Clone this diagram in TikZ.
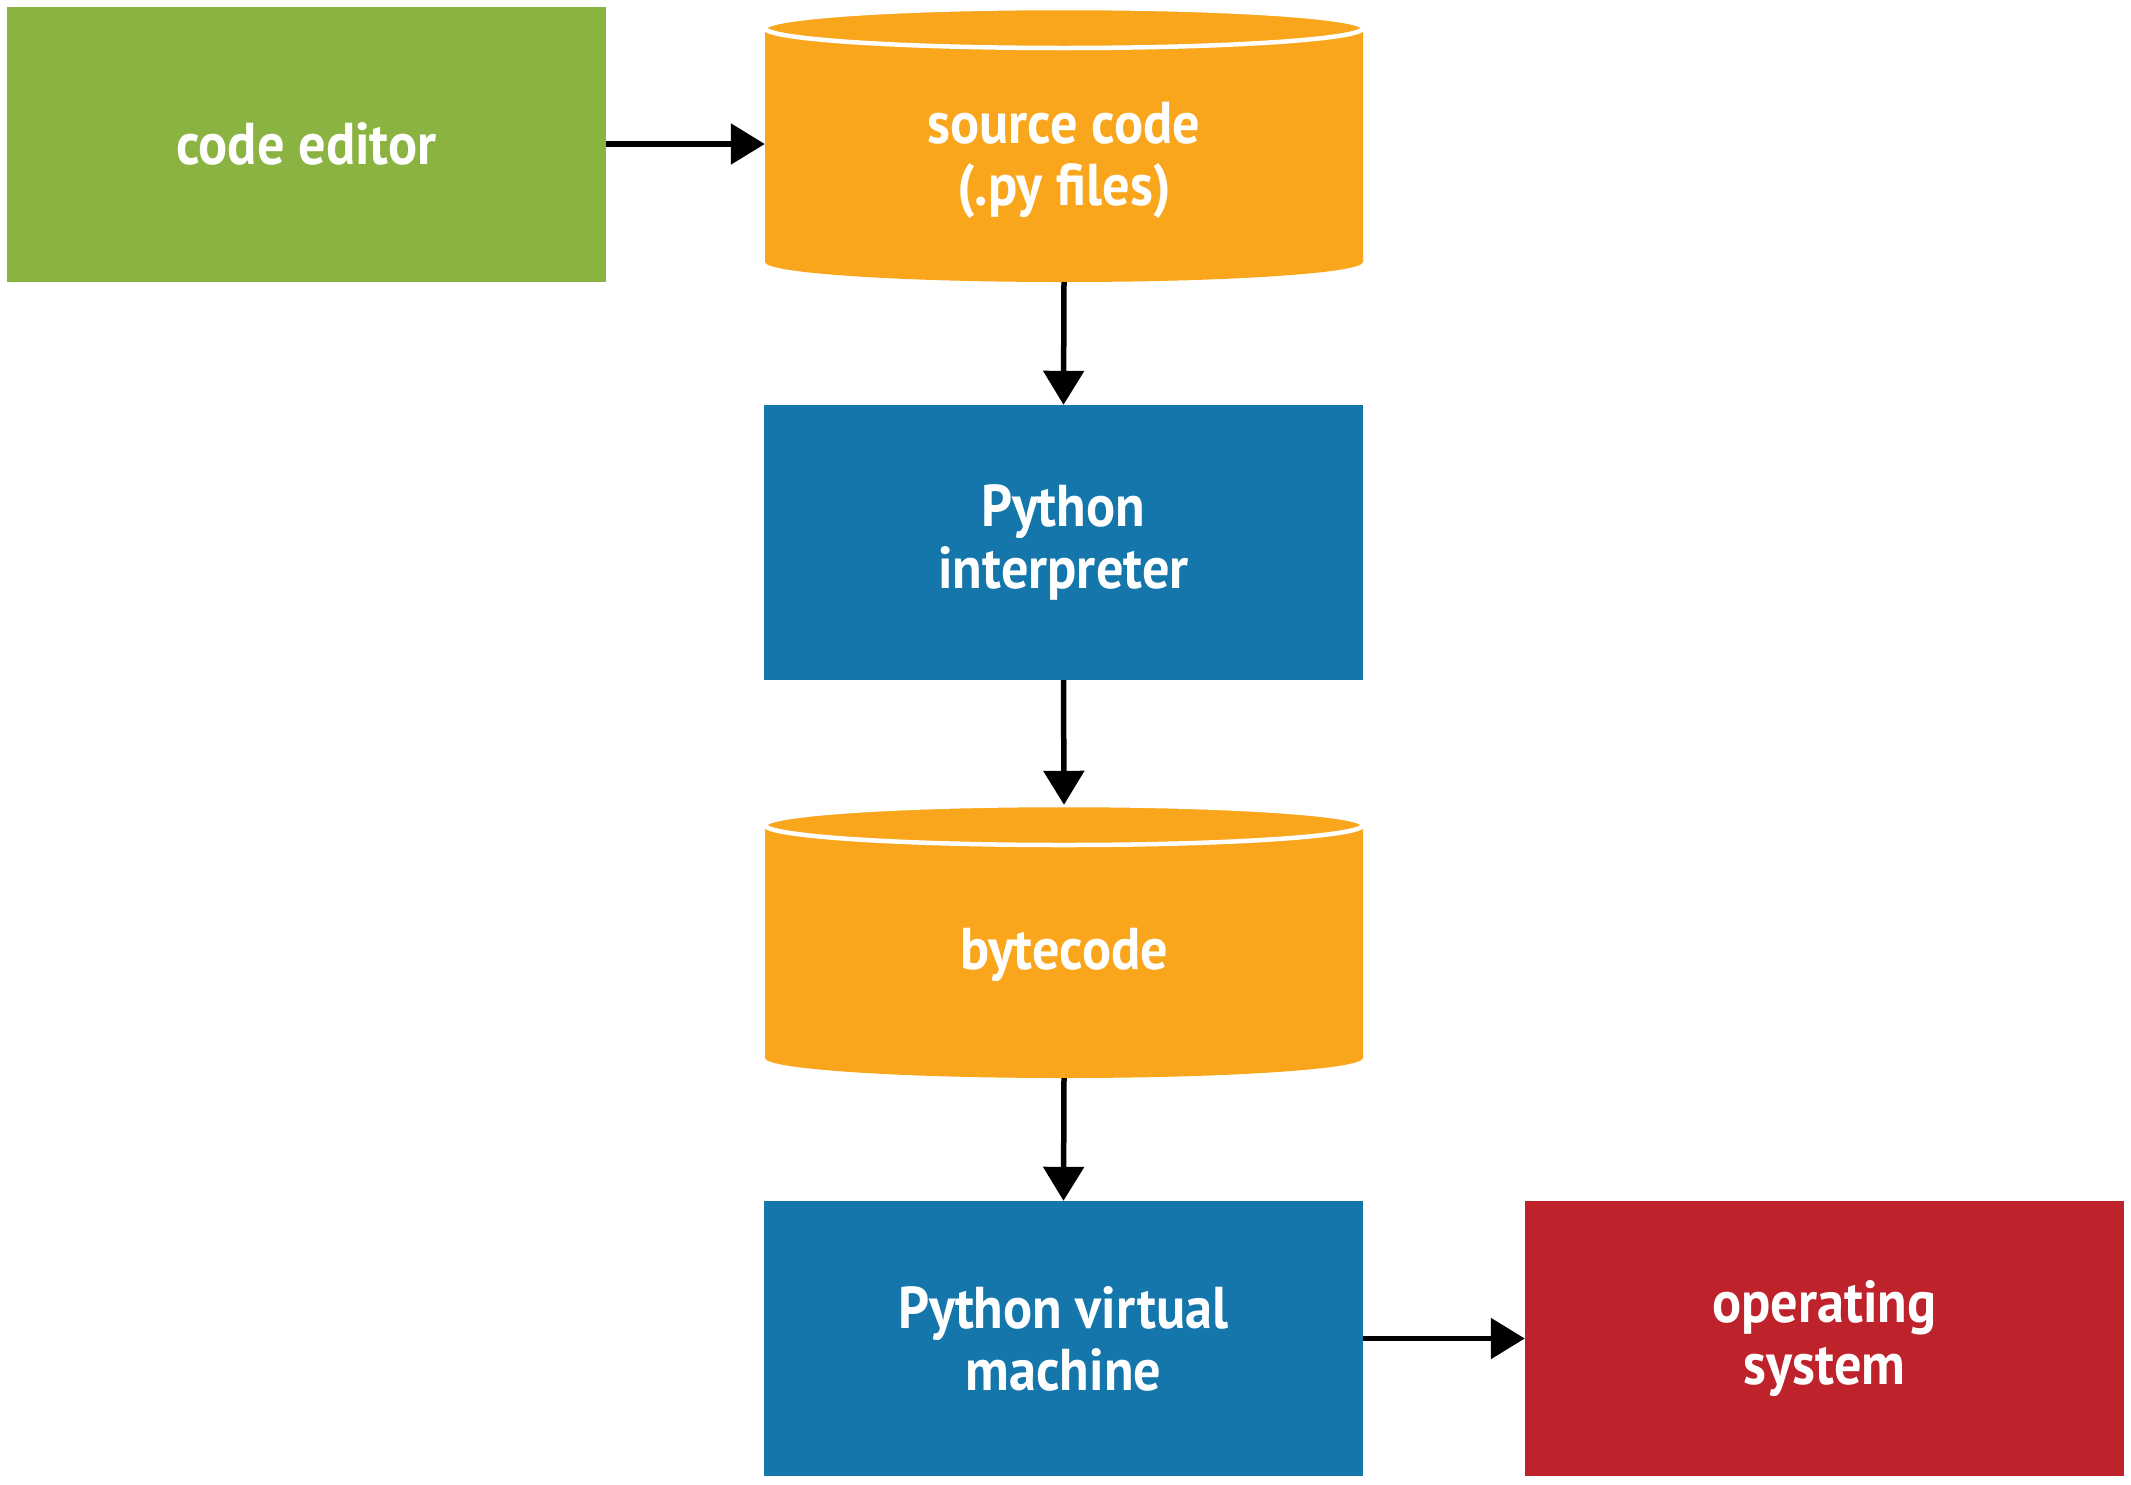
\documentclass[tikz,border=0pt]{standalone}
\usepackage{fontspec}
\setmainfont{PT Sans}[FakeStretch=0.92]
\usetikzlibrary{arrows.meta}
\definecolor{cgreen}{RGB}{138,179,65}
\definecolor{corange}{RGB}{249,166,29}
\definecolor{cblue}{RGB}{20,118,170}
\definecolor{cred}{RGB}{190,35,43}
\newcommand{\mycyl}[6]{%
  % #1 name, #2 cx, #3 top, #4 bottom, #5 text, #6 text offset
  \fill[corange] (#2-299,#3+20) -- (#2-299,#4-20)
     arc[start angle=180, end angle=360, x radius=299pt, y radius=20pt]
     -- (#2+299,#3+20) -- cycle;
  \filldraw[fill=corange, draw=white, line width=4.5pt] (#2,#3+20) ellipse[x radius=299pt, y radius=20pt];
  \node[inner sep=0pt, minimum width=598pt, minimum height=#4-#3] (#1) at (#2,{(#3+#4)/2}) {};
  \node[lbl] (#1lbl) at (#2,{(#3+#4)/2+#6}) {#5};
}
\begin{document}
\begin{tikzpicture}[x=1pt,y=-1pt,
  lbl/.style={text=white, font=\fontsize{59}{62}\selectfont\bfseries, align=center, inner sep=0pt},
  box/.style={lbl, rectangle, minimum width=599pt, minimum height=275pt},
  conn/.style={line width=5.5pt, -{Triangle[length=34pt,width=40pt]}}]
\useasboundingbox (0,0) rectangle (2131,1484);
\node[box, fill=cgreen] (editor) at (306.5,144) {code editor};
\mycyl{src}{1064}{8}{282}{source code\\(.py files)}{15}
\node[box, fill=cblue] (interp) at (1063.5,542.5) {Python\\interpreter};
\mycyl{bc}{1064}{805}{1078}{bytecode}{13}
\node[box, fill=cblue] (pvm) at (1063.5,1338.5) {Python virtual\\machine};
\node[box, fill=cred] (os) at (1824.5,1338.5) {operating\\system};
\draw[conn] (editor.east) -- (editor.east -| src.west);
\draw[conn] (src.south) -- (interp.north);
\draw[conn] (interp.south) -- (bc.north);
\draw[conn] (bc.south) -- (pvm.north);
\draw[conn] (pvm.east) -- (os.west);
\end{tikzpicture}
\end{document}
